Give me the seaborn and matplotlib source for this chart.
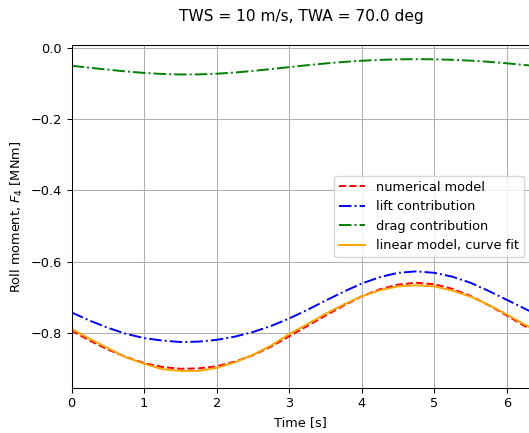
import matplotlib
matplotlib.use("Agg")
import matplotlib.pyplot as plt
import seaborn as sns
import pandas as pd

# Time samples [s]
time_s = [0.0, 0.25, 0.5, 0.75, 1.0, 1.25, 1.5, 1.75, 2.0, 2.25, 2.5, 2.75, 3.0,
          3.25, 3.5, 3.75, 4.0, 4.25, 4.5, 4.75, 5.0, 5.25, 5.5, 5.75, 6.0, 6.25, 6.32]

# Roll moment F4 [MNm]
numerical_model = [-0.793, -0.821, -0.846, -0.867, -0.884, -0.895, -0.900, -0.899, -0.893,
                   -0.880, -0.862, -0.838, -0.809, -0.780, -0.751, -0.723, -0.697, -0.677,
                   -0.664, -0.659, -0.663, -0.676, -0.696, -0.722, -0.751, -0.781, -0.789]
lift_contribution = [-0.742, -0.765, -0.785, -0.802, -0.814, -0.821, -0.825, -0.824, -0.819,
                     -0.810, -0.797, -0.780, -0.759, -0.735, -0.709, -0.684, -0.661, -0.643,
                     -0.631, -0.627, -0.631, -0.642, -0.659, -0.682, -0.707, -0.732, -0.739]
drag_contribution = [-0.0505, -0.0560, -0.0614, -0.0664, -0.0706, -0.0735, -0.0749, -0.0747,
                     -0.0728, -0.0694, -0.0650, -0.0598, -0.0543, -0.0489, -0.0440, -0.0398,
                     -0.0364, -0.0340, -0.0325, -0.0320, -0.0324, -0.0338, -0.0361, -0.0394,
                     -0.0436, -0.0484, -0.0499]
linear_fit = [-0.788, -0.816, -0.842, -0.868, -0.886, -0.901, -0.906, -0.906, -0.898,
              -0.882, -0.861, -0.835, -0.803, -0.775, -0.746, -0.720, -0.697, -0.680,
              -0.669, -0.666, -0.669, -0.681, -0.698, -0.721, -0.748, -0.777, -0.784]

x_ticks = [0, 1, 2, 3, 4, 5, 6]
y_ticks = [0.0, -0.2, -0.4, -0.6, -0.8]

df = pd.DataFrame({
    "t": time_s,
    "numerical": numerical_model,
    "lift": lift_contribution,
    "drag": drag_contribution,
    "linear": linear_fit,
})

plt.rcParams.update({
    "font.size": 9.3,
    "grid.linewidth": 0.75,
    "axes.linewidth": 0.75,
    "xtick.major.width": 0.75,
    "ytick.major.width": 0.75,
    "xtick.major.size": 3.3,
    "ytick.major.size": 3.3,
})

fig = plt.figure(figsize=(5.29, 4.33), dpi=100)
ax = fig.add_axes([0.1352, 0.1039, 0.8670, 0.7924])

series = [
    ("numerical", "numerical model", "red", "--"),
    ("lift", "lift contribution", "blue", "-."),
    ("drag", "drag contribution", "green", "-."),
    ("linear", "linear model, curve fit", "orange", "-"),
]
for col, label, color, ls in series:
    sns.lineplot(data=df, x="t", y=col, ax=ax, color=color, linestyle=ls,
                 linewidth=1.4, label=label, estimator=None, sort=True)

ax.set_xlim(0, 6.32)
ax.set_ylim(-0.954, 0.008)
ax.set_xticks(x_ticks)
ax.set_yticks(y_ticks)
ax.grid(True)
ax.set_xlabel("Time [s]")
ax.set_ylabel("Roll moment, $F_4$ [MNm]")
ax.legend(loc="center right")

fig.suptitle("TWS = 10 m/s, TWA = 70.0 deg", x=0.569, y=0.98, fontsize=11.1)

fig.savefig("out.png", dpi=100)
